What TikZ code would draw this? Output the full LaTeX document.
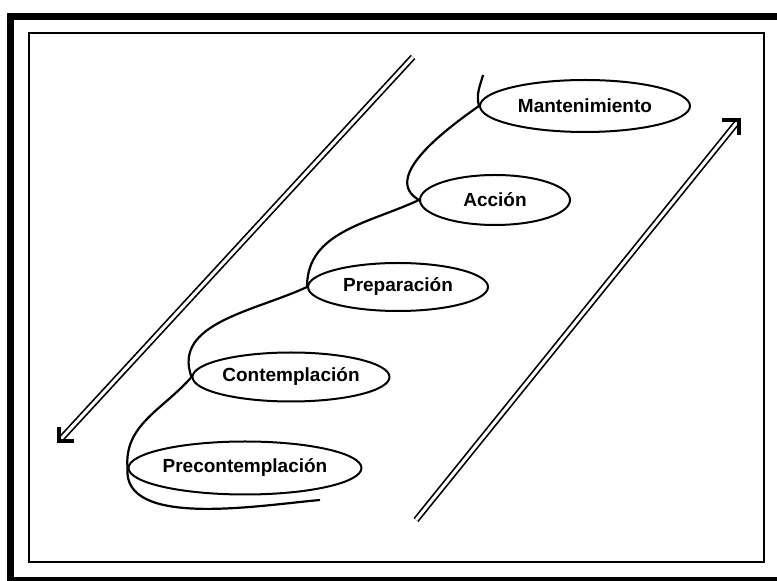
\documentclass[tikz,border=0pt]{standalone}
\usepackage{fontspec}
\setmainfont{Liberation Sans}
\usetikzlibrary{positioning,arrows.meta,shapes.geometric}
\tikzset{
  stage/.style={ellipse, draw, line width=2pt, inner sep=0pt, font=\fontsize{19}{22}\selectfont\bfseries},
  spiral/.style={line width=2.2pt},
  bigarrow/.style={double, double distance=3pt, line width=1.7pt, shorten >=2pt},
  tipmark/.style={line width=4pt, miter limit=10},
}

\begin{document}
\begin{tikzpicture}[x=1pt,y=1pt]
\useasboundingbox (0,0) rectangle (777,581);
\clip (0,0) rectangle (777,581);
% frames
\draw[line width=7pt] (10.5,0.5) rectangle (800,564.5);
\draw[line width=2.2pt] (29,19) rectangle (764,548);
% stages
\node[stage, minimum width=210pt, minimum height=52pt] (man) at (585,475) {Mantenimiento};
\node[stage, minimum width=150pt, minimum height=50pt] (acc) at (495,381) {Acción};
\node[stage, minimum width=180pt, minimum height=48pt] (pre) at (398,294) {Preparación};
\node[stage, minimum width=197pt, minimum height=49pt] (con) at (291,204) {Contemplación};
\node[stage, minimum width=224pt, minimum height=53pt] (prec) at (245,113) {Precontemplación};
% spiral
\coordinate (stop) at (483,506);
\coordinate (send) at (320,81);
\draw[spiral] (stop) to[out=-105,in=105] (man.west)
  to[out=215,in=150] (acc.west)
  to[out=205,in=90] (pre.west)
  to[out=205,in=110] (con.west)
  to[out=229,in=95] (prec.west)
  to[out=-95,in=185,looseness=0.8] (send);
% arrows
\coordinate (ltop) at (413,524);
\coordinate (lend) at (59,140);
\coordinate (rbot) at (416,61);
\coordinate (rtip) at (739,461);
\draw[bigarrow] (ltop) -- (lend);
\draw[bigarrow] (rbot) -- (rtip);
\draw[tipmark] ([yshift=14pt]lend) |- ([xshift=15pt]lend);
\draw[tipmark] ([xshift=-17pt]rtip) -| ([yshift=-15pt]rtip);
\end{tikzpicture}
\end{document}
